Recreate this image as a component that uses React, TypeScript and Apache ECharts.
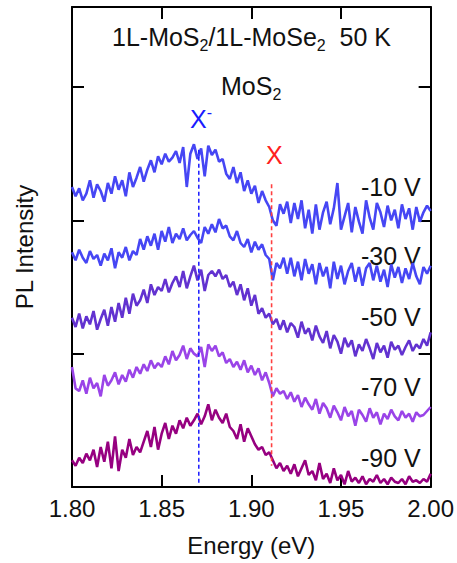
import React, { useEffect, useRef } from "react";
import * as echarts from "echarts";

// Energy grid (eV): first point and spacing of the sampled spectra
const E_START = 1.8;
const E_STEP = 0.002;

const v10 = [
  2.25, 2.18, 2.24, 2.15, 2.2, 2.3, 2.17, 2.27, 2.22, 2.14, 2.28,
  2.2, 2.33, 2.23, 2.3, 2.18, 2.36, 2.25, 2.32, 2.4, 2.29,
  2.38, 2.45, 2.36, 2.48, 2.42, 2.5, 2.44, 2.47, 2.52, 2.43,
  2.55, 2.25, 2.5, 2.57, 2.46, 2.54, 2.33, 2.56, 2.49, 2.53,
  2.44, 2.46, 2.35, 2.31, 2.4, 2.28, 2.36, 2.22, 2.3, 2.2,
  2.26, 2.13, 2.22, 2.15, 2.1, 2.0, 1.96, 2.12, 2.05, 2.14,
  1.98, 2.13, 2.01, 2.15, 1.94, 2.08, 1.9, 2.12, 1.93, 2.06,
  2.14, 1.97, 2.09, 2.28, 1.93, 2.03, 2.13, 1.91, 2.1, 1.99,
  1.9, 2.15, 2.02, 1.93, 2.13, 2.06, 1.95, 2.11, 2.0, 2.08,
  1.94, 2.12, 2.01, 2.09, 1.93, 2.1, 1.99, 2.06, 2.11, 2.07,
];
const v30 = [
  1.76, 1.7, 1.78, 1.72, 1.68, 1.77, 1.71, 1.74, 1.66, 1.75, 1.7,
  1.79, 1.64, 1.76, 1.72, 1.8, 1.7, 1.77, 1.74, 1.86, 1.78,
  1.88, 1.81, 1.9, 1.78, 1.92, 1.84, 1.95, 1.83, 1.9, 1.86,
  1.94, 1.85, 1.89, 1.92, 1.87, 1.83, 1.95, 1.9, 1.97, 1.91,
  2.01, 1.94, 1.96, 1.88, 1.85, 1.92, 1.83, 1.8, 1.86, 1.76,
  1.84, 1.78, 1.82, 1.74, 1.71, 1.55, 1.68, 1.64, 1.72, 1.6,
  1.72, 1.58, 1.69, 1.55, 1.71, 1.6, 1.67, 1.52, 1.68, 1.58,
  1.65, 1.49, 1.69, 1.56, 1.66, 1.52, 1.62, 1.68, 1.54, 1.65,
  1.51, 1.64, 1.68, 1.55, 1.66, 1.54, 1.63, 1.5, 1.67, 1.57,
  1.65, 1.53, 1.64, 1.56, 1.68, 1.58, 1.52, 1.65, 1.6, 1.66,
];
const v50 = [
  1.27, 1.2, 1.3, 1.19, 1.28, 1.22, 1.32, 1.18, 1.26, 1.33, 1.21,
  1.35, 1.24, 1.38, 1.27, 1.42, 1.3, 1.45, 1.36, 1.4, 1.48,
  1.38, 1.52, 1.44, 1.5, 1.47, 1.56, 1.46, 1.53, 1.58, 1.5,
  1.62, 1.49, 1.58, 1.66, 1.55, 1.63, 1.47, 1.59, 1.62, 1.58,
  1.63, 1.56, 1.59, 1.5, 1.54, 1.44, 1.52, 1.4, 1.49, 1.36,
  1.44, 1.3, 1.34, 1.27, 1.3, 1.22, 1.26, 1.18, 1.25, 1.16,
  1.23, 1.2, 1.12, 1.24, 1.15, 1.19, 1.1, 1.21, 1.13, 1.08,
  1.17, 1.04, 1.14, 1.09, 1.0, 1.12, 1.05, 1.1, 0.98, 1.07,
  1.02, 1.11, 1.04, 0.96, 1.08, 1.01, 1.06, 0.97, 1.09, 1.03,
  1.06, 0.99, 1.05, 1.1, 1.02, 1.07, 1.04, 1.11, 1.06, 1.16,
];
const v70 = [
  0.9, 0.74, 0.72, 0.8, 0.7, 0.82, 0.74, 0.78, 0.68, 0.84, 0.76,
  0.8, 0.86, 0.77, 0.84, 0.79, 0.88, 0.82, 0.9, 0.85, 0.92,
  0.87, 0.95, 0.89, 0.93, 0.9, 0.98, 0.92, 1.02, 0.95, 0.99,
  1.06, 0.96, 1.04, 1.0, 0.98, 1.05, 0.9, 1.07, 1.02, 1.06,
  0.98, 1.01, 0.93, 0.96, 0.9, 0.94, 0.88, 0.95, 0.86, 0.91,
  0.84, 0.89, 0.8, 0.86, 0.78, 0.68, 0.74, 0.7, 0.72, 0.66,
  0.71, 0.64, 0.69, 0.6, 0.67, 0.62, 0.58, 0.66, 0.55, 0.63,
  0.59, 0.52, 0.61, 0.56, 0.5, 0.6, 0.53, 0.57, 0.46, 0.58,
  0.54, 0.49, 0.59, 0.52, 0.56, 0.47, 0.55, 0.51, 0.58, 0.53,
  0.5, 0.57, 0.52, 0.55, 0.49, 0.56, 0.53, 0.54, 0.57, 0.6,
];
const v90 = [
  0.2, 0.16, 0.22, 0.18, 0.25, 0.2, 0.28, 0.15, 0.3, 0.19, 0.34,
  0.14, 0.38, 0.12, 0.28, 0.22, 0.36, 0.24, 0.3, 0.26, 0.34,
  0.42, 0.3, 0.45, 0.28, 0.4, 0.48, 0.36, 0.46, 0.4, 0.5,
  0.44, 0.52, 0.46, 0.5, 0.55, 0.47, 0.53, 0.62, 0.5, 0.58,
  0.52, 0.48, 0.55, 0.45, 0.42, 0.36, 0.47, 0.34, 0.44, 0.38,
  0.32, 0.28, 0.3, 0.24, 0.26, 0.2, 0.14, 0.18, 0.12, 0.16,
  0.1, 0.17, 0.08, 0.14, 0.2, 0.09, 0.12, 0.05, 0.18, 0.06,
  0.1, 0.03, 0.14, 0.05, 0.09, 0.02, 0.12, 0.04, 0.07, 0.03,
  0.08, 0.02, 0.06, 0.04, 0.09, 0.03, 0.06, 0.02, 0.07, 0.04,
  0.03, 0.06, 0.02, 0.08, 0.04, 0.05, 0.03, 0.06, 0.04, 0.1,
];

const seriesNames = ["-10 V", "-30 V", "-50 V", "-70 V", "-90 V"];
const seriesValues = [v10, v30, v50, v70, v90];
const seriesColors = ["#4646f4", "#4646f4", "#6232d0", "#9a44e8", "#960080"];

// reference lines: [energy, y from, y to]
const xMinusLine = [1.8707, 2.53, 0.03];
const xLine = [1.9113, 2.27, 0.16];

const xTicks = [1.8, 1.85, 1.9, 1.95, 2.0];

const FONT = "'Liberation Sans', Arial, Helvetica, sans-serif";

export default function App() {
  const ref = useRef<HTMLDivElement>(null);
  useEffect(() => {
    if (!ref.current) return;
    const chart = echarts.init(ref.current, null, { renderer: "svg" });
    const lineSeries = seriesValues.map((vals, k) => ({
      name: seriesNames[k],
      type: "line",
      showSymbol: false,
      symbol: "none",
      xAxisIndex: 0,
      yAxisIndex: 0,
      data: vals.map((v, i) => [E_START + i * E_STEP, v]),
      lineStyle: { color: seriesColors[k], width: 2.6 },
      z: 2,
    }));
    const dashSeries = [
      { l: xMinusLine, c: "#2222ff" },
      { l: xLine, c: "#ff4040" },
    ].map((d) => ({
      type: "line",
      symbol: "none",
      xAxisIndex: 0,
      yAxisIndex: 0,
      data: [
        [d.l[0], d.l[1]],
        [d.l[0], d.l[2]],
      ],
      lineStyle: { color: d.c, width: 1.6, type: [4, 3] },
      z: 3,
    }));
    const axisCommon = {
      type: "value",
      axisLine: { show: true, onZero: false, lineStyle: { color: "#000", width: 2 } },
      axisTick: { show: true, inside: true, length: 12, lineStyle: { color: "#000", width: 2 } },
      splitLine: { show: false },
    };
    chart.setOption({
      animation: false,
      backgroundColor: "#fff",
      grid: { left: 72, right: 25, top: 7, bottom: 76, containLabel: false },
      xAxis: [
        {
          ...axisCommon,
          position: "bottom",
          min: xTicks[0],
          max: xTicks[xTicks.length - 1],
          interval: 0.05,
          axisLabel: {
            show: true,
            margin: 9,
            fontSize: 24,
            color: "#111",
            fontFamily: FONT,
            formatter: (v: number) => v.toFixed(2),
          },
          name: "Energy (eV)",
          nameLocation: "middle",
          nameGap: 46,
          nameTextStyle: { fontSize: 24, color: "#111", fontFamily: FONT },
        },
        {
          ...axisCommon,
          position: "top",
          min: xTicks[0],
          max: xTicks[xTicks.length - 1],
          interval: 0.05,
          axisLabel: { show: false },
        },
      ],
      yAxis: [
        {
          ...axisCommon,
          position: "left",
          min: 0,
          max: 3.6,
          interval: 1,
          axisLabel: { show: false },
          name: "PL Intensity",
          nameLocation: "middle",
          nameGap: 36,
          nameRotate: 90,
          nameTextStyle: { fontSize: 24, color: "#111", fontFamily: FONT },
        },
        {
          ...axisCommon,
          position: "right",
          min: 0,
          max: 3.6,
          interval: 1,
          axisLabel: { show: false },
        },
      ],
      series: [...lineSeries, ...dashSeries],
      graphic: [
        {
          type: "text",
          x: 112,
          y: 37,
          style: {
            text: "1L-MoS{sub|2}/1L-MoSe{sub|2}  50 K",
            fill: "#111",
            font: `25px ${FONT}`,
            textVerticalAlign: "middle",
            lineHeight: 32,
            rich: {
              sub: { fontSize: 16, fontFamily: FONT, verticalAlign: "bottom", lineHeight: 15 },
            },
          },
        },
        {
          type: "text",
          x: 221,
          y: 86,
          style: {
            text: "MoS{sub|2}",
            fill: "#111",
            font: `25px ${FONT}`,
            textVerticalAlign: "middle",
            lineHeight: 32,
            rich: {
              sub: { fontSize: 16, fontFamily: FONT, verticalAlign: "bottom", lineHeight: 15 },
            },
          },
        },
        {
          type: "text",
          x: 190,
          y: 119,
          style: {
            text: "X{sup|-}",
            fill: "#1a1aff",
            font: `25px ${FONT}`,
            textVerticalAlign: "middle",
            lineHeight: 30,
            rich: {
              sup: { fontSize: 16, fontFamily: FONT, fill: "#1a1aff", verticalAlign: "top", lineHeight: 15 },
            },
          },
        },
        {
          type: "text",
          x: 266,
          y: 155,
          style: { text: "X", fill: "#ff2020", font: `25px ${FONT}`, textVerticalAlign: "middle" },
        },
        ...seriesNames.map((n, k) => ({
          type: "text",
          x: 361,
          y: [187, 256, 317, 387, 458][k],
          style: { text: n, fill: "#111", font: `25px ${FONT}`, textVerticalAlign: "middle" },
        })),
      ],
    });
    return () => chart.dispose();
  }, []);
  return <div ref={ref} style={{ width: 457, height: 563, position: "absolute", left: 0, top: 0 }} />;
}
